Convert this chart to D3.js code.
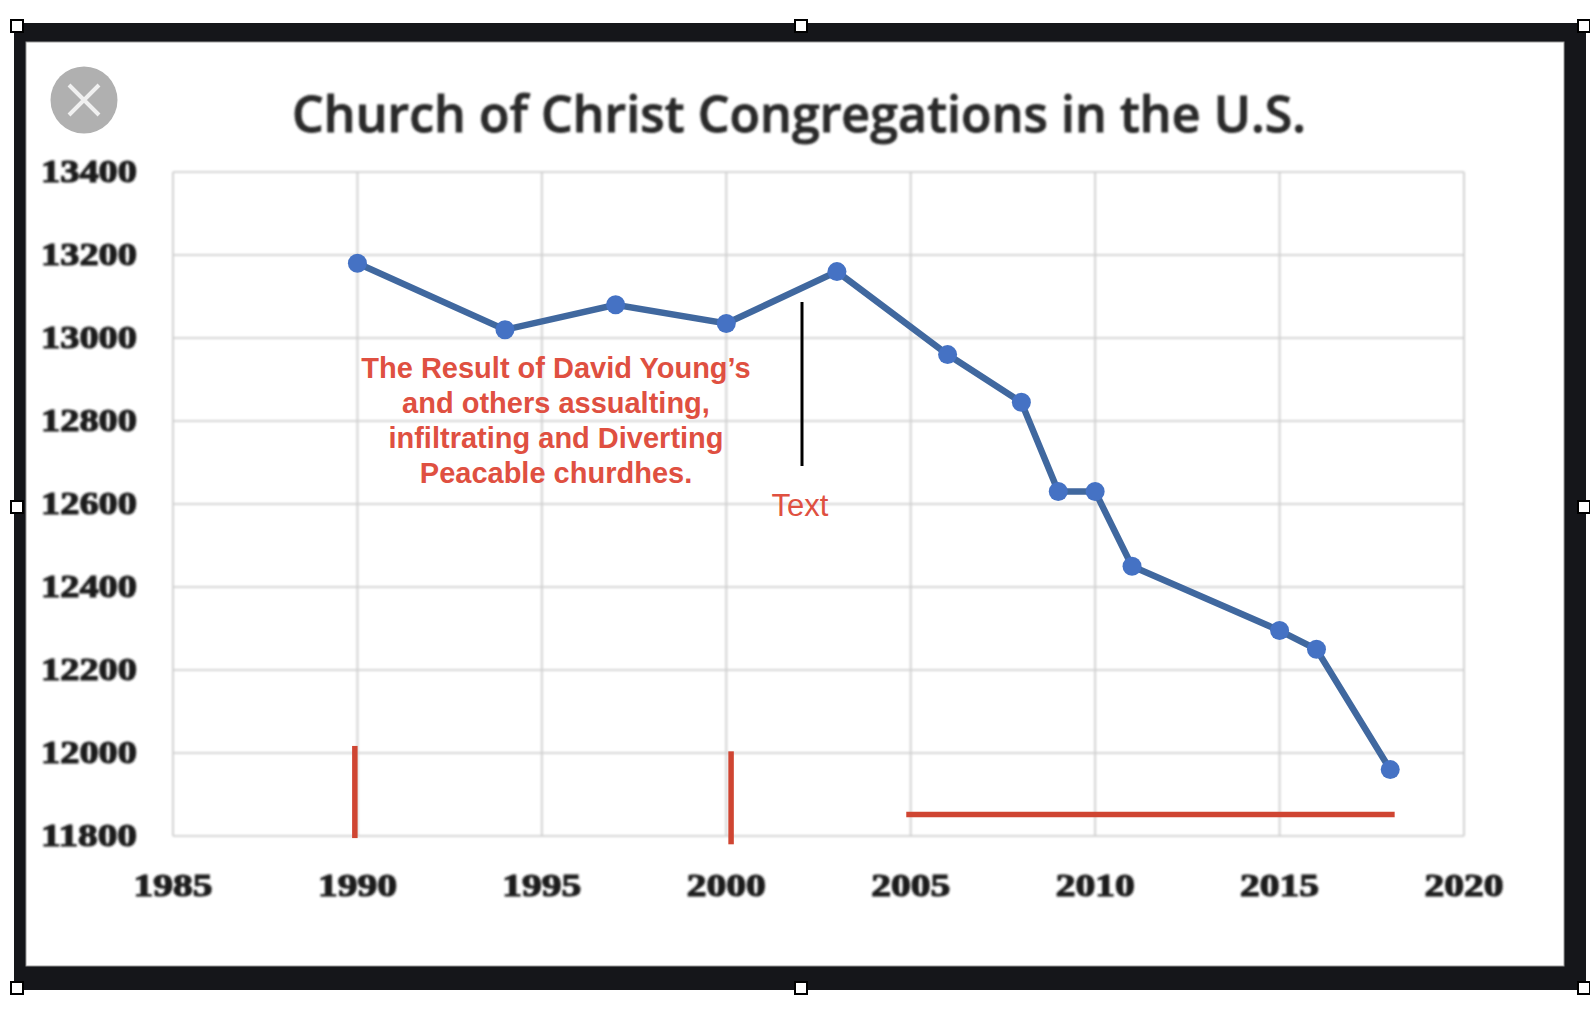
<!DOCTYPE html>
<html>
<head>
<meta charset="utf-8">
<script src="https://cdn.jsdelivr.net/npm/d3@7"></script>
<style>
  html, body { margin: 0; padding: 0; background: #fff; }
  svg { display: block; }
  .tick-label { font-family: "Liberation Serif", serif; font-weight: 700; font-size: 32px; fill: #1c1c1c; }
  .note { font-family: "Liberation Sans", sans-serif; font-weight: 700; font-size: 29px; fill: #df5041; text-anchor: middle; }
</style>
</head>
<body>
<div id="chart"></div>
<script>
const chartWidth = 1590;
const chartHeight = 1012;

const years = [1990, 1994, 1997, 2000, 2003, 2006, 2008, 2009, 2010, 2011, 2015, 2016, 2018];
const congregations = [13180, 13020, 13080, 13035, 13160, 12960, 12845, 12630, 12630, 12450, 12295, 12250, 11960];
const xTicks = [1985, 1990, 1995, 2000, 2005, 2010, 2015, 2020];
const yTicks = [11800, 12000, 12200, 12400, 12600, 12800, 13000, 13200, 13400];
const noteLines = ["The Result of David Young\u2019s", "and others assualting,", "infiltrating and Diverting", "Peacable churdhes."];

const xScale = d3.scaleLinear().domain([1985, 2020]).range([173, 1464]);
const yScale = d3.scaleLinear().domain([11800, 13400]).range([836, 172]);

const svg = d3.select("#chart").append("svg")
  .attr("width", chartWidth)
  .attr("height", chartHeight);

const defs = svg.append("defs");
defs.append("filter").attr("id", "soft").append("feGaussianBlur").attr("stdDeviation", 1.1);
defs.append("filter").attr("id", "softer").append("feGaussianBlur").attr("stdDeviation", 0.6);

// frame
svg.append("rect").attr("x", 14).attr("y", 23).attr("width", 1572).attr("height", 967).attr("fill", "#15161a");
svg.append("rect").attr("x", 26).attr("y", 42).attr("width", 1538).attr("height", 924).attr("fill", "#fff")
  .attr("stroke", "#999").attr("stroke-width", 1);

// the photographed chart
const chart = svg.append("g").attr("filter", "url(#soft)");

// grid
chart.append("g")
  .selectAll("line")
  .data(yTicks)
  .enter()
  .append("line")
  .attr("x1", xScale(1985))
  .attr("x2", xScale(2020))
  .attr("y1", d => yScale(d))
  .attr("y2", d => yScale(d))
  .attr("stroke", "#d6d6d6")
  .attr("stroke-width", 2);

chart.append("g")
  .selectAll("line")
  .data(xTicks)
  .enter()
  .append("line")
  .attr("x1", d => xScale(d))
  .attr("x2", d => xScale(d))
  .attr("y1", yScale(13400))
  .attr("y2", yScale(11800))
  .attr("stroke", "#d2d2d2")
  .attr("stroke-width", 2);

chart.append("g")
  .selectAll("text")
  .data(yTicks)
  .enter()
  .append("text")
  .attr("class", "tick-label")
  .attr("x", 137)
  .attr("y", d => yScale(d) + 10)
  .attr("text-anchor", "end")
  .attr("stroke", "#1c1c1c")
  .attr("stroke-width", 1.2)
  .attr("textLength", 96)
  .attr("lengthAdjust", "spacingAndGlyphs")
  .text(d => d);

chart.append("g")
  .selectAll("text")
  .data(xTicks)
  .enter()
  .append("text")
  .attr("class", "tick-label")
  .attr("x", d => xScale(d))
  .attr("y", 896)
  .attr("text-anchor", "middle")
  .attr("stroke", "#1c1c1c")
  .attr("stroke-width", 1.2)
  .attr("textLength", 79)
  .attr("lengthAdjust", "spacingAndGlyphs")
  .text(d => d);

chart.append("text")
  .attr("x", 799)
  .attr("y", 132)
  .attr("text-anchor", "middle")
  .attr("font-family", "Open Sans, sans-serif")
  .attr("font-size", 50)
  .attr("font-weight", 600)
  .attr("fill", "#2b2b2b")
  .attr("stroke", "#2b2b2b")
  .attr("stroke-width", 0.9)
  .attr("textLength", 1014)
  .text("Church of Christ Congregations in the U.S.");

// series
const line = d3.line()
  .x((d, i) => xScale(years[i]))
  .y(d => yScale(d));

const series = svg.append("g").attr("filter", "url(#softer)");

series.append("path")
  .datum(congregations)
  .attr("fill", "none")
  .attr("stroke", "#41689f")
  .attr("stroke-width", 6.5)
  .attr("d", line);

series.append("g")
  .selectAll("circle")
  .data(congregations)
  .enter()
  .append("circle")
  .attr("cx", (d, i) => xScale(years[i]))
  .attr("cy", d => yScale(d))
  .attr("r", 9.5)
  .attr("fill", "#4472c4");

// red marks drawn over the chart
const marks = svg.append("g").attr("filter", "url(#softer)").attr("stroke", "#cf4430").attr("stroke-width", 5.5);
marks.append("line")
  .attr("x1", xScale(1989.93)).attr("x2", xScale(1989.93))
  .attr("y1", yScale(12017)).attr("y2", yScale(11795));
marks.append("line")
  .attr("x1", xScale(2000.13)).attr("x2", xScale(2000.13))
  .attr("y1", yScale(12004)).attr("y2", yScale(11780));
marks.append("line")
  .attr("x1", xScale(2004.88)).attr("x2", xScale(2018.12))
  .attr("y1", yScale(11852)).attr("y2", yScale(11852));

// annotation
svg.append("g")
  .selectAll("text")
  .data(noteLines)
  .enter()
  .append("text")
  .attr("class", "note")
  .attr("x", 556)
  .attr("y", (d, i) => 378 + i * 35)
  .text(d => d);

svg.append("line")
  .attr("x1", 802).attr("x2", 802)
  .attr("y1", 302).attr("y2", 466)
  .attr("stroke", "#000").attr("stroke-width", 3);

svg.append("text")
  .attr("x", 800)
  .attr("y", 516)
  .attr("text-anchor", "middle")
  .attr("font-family", "Liberation Sans, sans-serif")
  .attr("font-size", 31)
  .attr("fill", "#df5041")
  .text("Text");

// close button
const closeBtn = svg.append("g").attr("transform", "translate(84,100)");
closeBtn.append("circle").attr("r", 33.5).attr("fill", "#b0b0b0");
closeBtn.append("path")
  .attr("d", "M-15,-15L15,15M15,-15L-15,15")
  .attr("stroke", "#f0f0f0")
  .attr("stroke-width", 4);

// selection handles
const handles = [[17, 26], [801, 26], [1584, 26], [17, 507], [1584, 507], [17, 988], [801, 988], [1584, 988]];
svg.append("g")
  .selectAll("rect")
  .data(handles)
  .enter()
  .append("rect")
  .attr("x", d => d[0] - 6)
  .attr("y", d => d[1] - 6)
  .attr("width", 12)
  .attr("height", 12)
  .attr("fill", "#fff")
  .attr("stroke", "#000")
  .attr("stroke-width", 2);
</script>
</body>
</html>
